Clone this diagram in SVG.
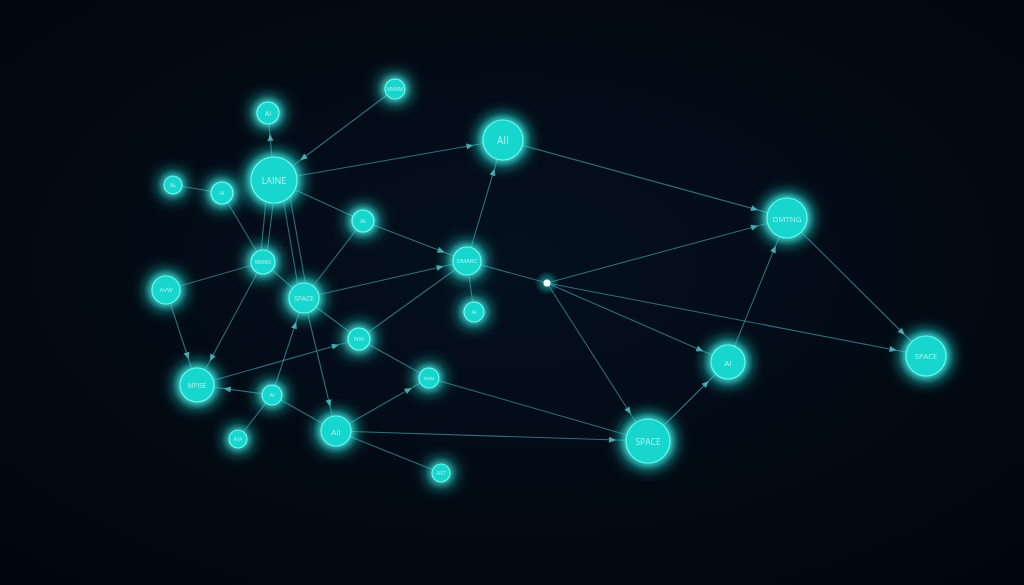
<svg xmlns="http://www.w3.org/2000/svg" width="1024" height="585" viewBox="0 0 1024 585">
<style>
.e{stroke:#3d8f99;stroke-width:1.1;stroke-opacity:0.75;fill:none}
.n circle{fill:#18d6ce;stroke:#6af8ef;stroke-width:1.2}
.n{filter:url(#glow)}
.n text{fill:#d2fffb;fill-opacity:0.8;font-family:"Open Sans","DejaVu Sans",sans-serif;text-anchor:middle;dominant-baseline:central}
.ah{fill:#4aa7b0}
</style>
<defs>
<radialGradient id="bg" cx="50%" cy="45%" r="70%">
<stop offset="0" stop-color="#04101e"/>
<stop offset="1" stop-color="#01060d"/>
</radialGradient>
<radialGradient id="dotglow">
<stop offset="0" stop-color="#9ffcff" stop-opacity="0.9"/>
<stop offset="0.35" stop-color="#1fd8d0" stop-opacity="0.45"/>
<stop offset="1" stop-color="#1fd8d0" stop-opacity="0"/>
</radialGradient>
<filter id="glow" filterUnits="userSpaceOnUse" x="0" y="0" width="1024" height="585">
<feGaussianBlur in="SourceGraphic" stdDeviation="9" result="b1"/>
<feGaussianBlur in="SourceGraphic" stdDeviation="3.5" result="b2"/>
<feMerge><feMergeNode in="b1"/><feMergeNode in="b1"/><feMergeNode in="b2"/><feMergeNode in="SourceGraphic"/></feMerge>
</filter>
<marker id="a10" markerUnits="userSpaceOnUse" orient="auto" refX="20" refY="0" markerWidth="10" markerHeight="10" overflow="visible"><path class="ah" d="M-7,-3 L0,0 L-7,3 z"/></marker>
<marker id="a11" markerUnits="userSpaceOnUse" orient="auto" refX="21" refY="0" markerWidth="10" markerHeight="10" overflow="visible"><path class="ah" d="M-7,-3 L0,0 L-7,3 z"/></marker>
<marker id="a14" markerUnits="userSpaceOnUse" orient="auto" refX="24" refY="0" markerWidth="10" markerHeight="10" overflow="visible"><path class="ah" d="M-7,-3 L0,0 L-7,3 z"/></marker>
<marker id="a15" markerUnits="userSpaceOnUse" orient="auto" refX="25" refY="0" markerWidth="10" markerHeight="10" overflow="visible"><path class="ah" d="M-7,-3 L0,0 L-7,3 z"/></marker>
<marker id="a17" markerUnits="userSpaceOnUse" orient="auto" refX="27" refY="0" markerWidth="10" markerHeight="10" overflow="visible"><path class="ah" d="M-7,-3 L0,0 L-7,3 z"/></marker>
<marker id="a20" markerUnits="userSpaceOnUse" orient="auto" refX="30" refY="0" markerWidth="10" markerHeight="10" overflow="visible"><path class="ah" d="M-7,-3 L0,0 L-7,3 z"/></marker>
<marker id="a22" markerUnits="userSpaceOnUse" orient="auto" refX="32" refY="0" markerWidth="10" markerHeight="10" overflow="visible"><path class="ah" d="M-7,-3 L0,0 L-7,3 z"/></marker>
<marker id="a23" markerUnits="userSpaceOnUse" orient="auto" refX="33" refY="0" markerWidth="10" markerHeight="10" overflow="visible"><path class="ah" d="M-7,-3 L0,0 L-7,3 z"/></marker>
</defs>
<rect width="1024" height="585" fill="url(#bg)"/>
<g id="connectors">
<line class="e" x1="274" y1="180" x2="268" y2="113" marker-end="url(#a11)"/>
<line class="e" x1="395" y1="89" x2="274" y2="180" marker-end="url(#a23)"/>
<line class="e" x1="274" y1="180" x2="503" y2="140" marker-end="url(#a20)"/>
<line class="e" x1="173" y1="185" x2="222" y2="193"/>
<line class="e" x1="222" y1="193" x2="263" y2="262"/>
<line class="e" x1="268" y1="180" x2="260" y2="262"/>
<line class="e" x1="276" y1="180" x2="266" y2="262"/>
<line class="e" x1="280" y1="180" x2="300" y2="298"/>
<line class="e" x1="287" y1="180" x2="308" y2="298"/>
<line class="e" x1="274" y1="180" x2="363" y2="221"/>
<line class="e" x1="166" y1="290" x2="263" y2="262"/>
<line class="e" x1="166" y1="290" x2="197" y2="385" marker-end="url(#a17)"/>
<line class="e" x1="263" y1="262" x2="197" y2="385" marker-end="url(#a17)"/>
<line class="e" x1="263" y1="262" x2="304" y2="298"/>
<line class="e" x1="363" y1="221" x2="467" y2="261" marker-end="url(#a14)"/>
<line class="e" x1="363" y1="221" x2="304" y2="298"/>
<line class="e" x1="304" y1="298" x2="467" y2="261" marker-end="url(#a14)"/>
<line class="e" x1="304" y1="298" x2="359" y2="339"/>
<line class="e" x1="359" y1="339" x2="467" y2="261"/>
<line class="e" x1="467" y1="261" x2="503" y2="140" marker-end="url(#a20)"/>
<line class="e" x1="467" y1="261" x2="474" y2="312"/>
<line class="e" x1="467" y1="261" x2="547" y2="283"/>
<line class="e" x1="272" y1="395" x2="304" y2="298" marker-end="url(#a15)"/>
<line class="e" x1="304" y1="298" x2="336" y2="431" marker-end="url(#a15)"/>
<line class="e" x1="197" y1="385" x2="359" y2="339" marker-end="url(#a11)"/>
<line class="e" x1="272" y1="395" x2="197" y2="385" marker-end="url(#a17)"/>
<line class="e" x1="272" y1="395" x2="336" y2="431"/>
<line class="e" x1="238" y1="439" x2="272" y2="395"/>
<line class="e" x1="336" y1="431" x2="429" y2="378" marker-end="url(#a10)"/>
<line class="e" x1="336" y1="431" x2="648" y2="441" marker-end="url(#a22)"/>
<line class="e" x1="336" y1="431" x2="441" y2="473"/>
<line class="e" x1="359" y1="339" x2="429" y2="378"/>
<line class="e" x1="429" y1="378" x2="648" y2="441"/>
<line class="e" x1="503" y1="140" x2="787" y2="218" marker-end="url(#a20)"/>
<line class="e" x1="547" y1="283" x2="787" y2="218" marker-end="url(#a20)"/>
<line class="e" x1="547" y1="283" x2="926" y2="356" marker-end="url(#a20)"/>
<line class="e" x1="547" y1="283" x2="728" y2="362" marker-end="url(#a17)"/>
<line class="e" x1="547" y1="283" x2="648" y2="441" marker-end="url(#a22)"/>
<line class="e" x1="787" y1="218" x2="926" y2="356" marker-end="url(#a20)"/>
<line class="e" x1="728" y1="362" x2="787" y2="218" marker-end="url(#a20)"/>
<line class="e" x1="648" y1="441" x2="728" y2="362" marker-end="url(#a17)"/>
</g>
<g id="n1" class="n"><circle cx="268" cy="113" r="11"/><text x="268" y="113" font-size="7">AI</text></g>
<g id="n2" class="n"><circle cx="395" cy="89" r="10"/><text x="395" y="89" font-size="4.5">MMMM</text></g>
<g id="n3" class="n"><circle cx="274" cy="180" r="23"/><text x="274" y="180" font-size="9">LAINE</text></g>
<g id="n4" class="n"><circle cx="173" cy="185" r="9"/><text x="173" y="185" font-size="5.5">AL</text></g>
<g id="n5" class="n"><circle cx="222" cy="193" r="11"/><text x="222" y="193" font-size="5.5">AI</text></g>
<g id="n6" class="n"><circle cx="503" cy="140" r="20"/><text x="503" y="140" font-size="10">AII</text></g>
<g id="n7" class="n"><circle cx="363" cy="221" r="11"/><text x="363" y="221" font-size="6">AI</text></g>
<g id="n8" class="n"><circle cx="263" cy="262" r="12"/><text x="263" y="262" font-size="4.5">MMMSI</text></g>
<g id="n9" class="n"><circle cx="467" cy="261" r="14"/><text x="467" y="261" font-size="6">DMARC</text></g>
<g id="n10" class="n"><circle cx="474" cy="312" r="10"/><text x="474" y="312" font-size="5.5">AI</text></g>
<g id="n11" class="n"><circle cx="166" cy="290" r="14"/><text x="166" y="290" font-size="6">AVW</text></g>
<g id="n12" class="n"><circle cx="304" cy="298" r="15"/><text x="304" y="298" font-size="6.5">SPACE</text></g>
<g id="n13" class="n"><circle cx="359" cy="339" r="11"/><text x="359" y="339" font-size="6">NW</text></g>
<g id="n14" class="n"><circle cx="197" cy="385" r="17"/><text x="197" y="385" font-size="6.5">MPISE</text></g>
<g id="n15" class="n"><circle cx="272" cy="395" r="10"/><text x="272" y="395" font-size="6">AI</text></g>
<g id="n16" class="n"><circle cx="429" cy="378" r="10"/><text x="429" y="378" font-size="4">MMM</text></g>
<g id="n17" class="n"><circle cx="238" cy="439" r="9"/><text x="238" y="439" font-size="4.5">AVA</text></g>
<g id="n18" class="n"><circle cx="336" cy="431" r="15"/><text x="336" y="431" font-size="8">AII</text></g>
<g id="n19" class="n"><circle cx="441" cy="473" r="9"/><text x="441" y="473" font-size="4.5">AIST</text></g>
<g id="n20"><circle cx="547" cy="283" r="12" fill="url(#dotglow)"/><circle cx="547" cy="283" r="3.5" fill="#ffffff"/></g>
<g id="n21" class="n"><circle cx="787" cy="218" r="20"/><text x="787" y="218" font-size="8">DMTNG</text></g>
<g id="n22" class="n"><circle cx="926" cy="356" r="20"/><text x="926" y="356" font-size="7.5">SPACE</text></g>
<g id="n23" class="n"><circle cx="728" cy="362" r="17"/><text x="728" y="362" font-size="8">AI</text></g>
<g id="n24" class="n"><circle cx="648" cy="441" r="22"/><text x="648" y="441" font-size="8.5">SPACE</text></g>
</svg>
